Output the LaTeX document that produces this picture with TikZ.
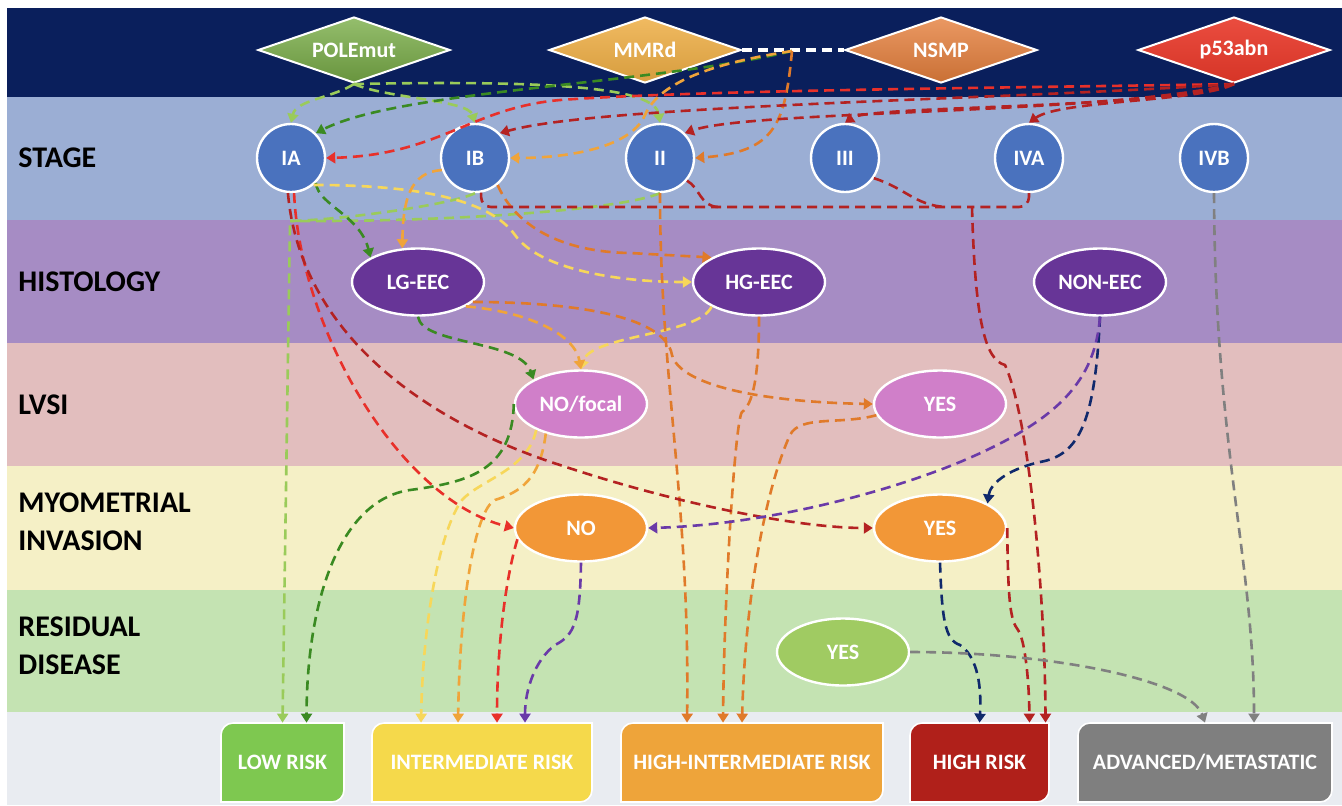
\documentclass[tikz,border=0pt]{standalone}
\usepackage{fontspec}
\setmainfont{Carlito}
\usetikzlibrary{shapes.geometric,arrows.meta}

% band colours
\definecolor{navyband}{HTML}{0A1F5C}
\definecolor{stageband}{HTML}{9BAED4}
\definecolor{histband}{HTML}{A68CC4}
\definecolor{lvsiband}{HTML}{E2BEBE}
\definecolor{myoband}{HTML}{F5F0C6}
\definecolor{resband}{HTML}{C4E3B2}
\definecolor{riskband}{HTML}{E9ECF1}
% node colours
\definecolor{polec}{HTML}{7AAE48}
\definecolor{mmrdc}{HTML}{EEAE45}
\definecolor{nsmpc}{HTML}{E57F3C}
\definecolor{p53c}{HTML}{E8392A}
\definecolor{stagec}{HTML}{4A72BE}
\definecolor{histc}{HTML}{673597}
\definecolor{lvsic}{HTML}{D07FC9}
\definecolor{myoc}{HTML}{F29737}
\definecolor{resc}{HTML}{A0CB62}
\definecolor{lowc}{HTML}{7EC850}
\definecolor{interc}{HTML}{F5D94B}
\definecolor{hintc}{HTML}{EEA43A}
\definecolor{highc}{HTML}{B0201A}
\definecolor{advc}{HTML}{7F7F7F}
% line colours
\definecolor{lgreen}{HTML}{9ACB5A}
\definecolor{dgreen}{HTML}{3A8A22}
\definecolor{lyellow}{HTML}{F7D75A}
\definecolor{lorange}{HTML}{F0A43A}
\definecolor{dorange}{HTML}{E07A2A}
\definecolor{lred}{HTML}{E8302A}
\definecolor{dred}{HTML}{B42222}
\definecolor{lpurple}{HTML}{6A3AA8}
\definecolor{dnavy}{HTML}{10296C}
\definecolor{lgrey}{HTML}{808080}

% risk box: name, centre x, width, colour, text
\newcommand{\riskbox}[5]{%
  \fill[#4, draw=white, line width=0.8pt] ({#2-#3/2},802) -- ({#2-#3/2},735)
    arc[start angle=180,end angle=90,radius=6pt] -- ({#2+#3/2},723) -- ({#2+#3/2},790)
    arc[start angle=0,end angle=-90,radius=6pt] -- cycle;
  \node[risk, minimum width=#3*0.5pt] (#1) at (#2,762.5) {#5};
}

\begin{document}
\begin{tikzpicture}[x=0.5pt, y=-0.5pt,
  txt/.style={text=white, font=\bfseries\fontsize{11}{13}\selectfont},
  tumour/.style={diamond, txt, draw=white, line width=1pt, aspect=2.9, inner sep=0pt, minimum width=96pt, minimum height=33pt},
  stage/.style={circle, txt, fill=stagec, draw=white, line width=1.2pt, inner sep=0pt, minimum size=34pt},
  oval/.style={ellipse, txt, draw=white, line width=1.2pt, inner sep=0pt, minimum width=66pt, minimum height=33.5pt},
  risk/.style={txt, inner sep=0pt, minimum height=39.5pt},
  band/.style={anchor=west, align=left, inner sep=0pt, text=black, font=\bfseries\fontsize{15}{19}\selectfont},
  link/.style={dash pattern=on 5pt off 3pt, line width=1.3pt, -{Triangle[width=5.5pt,length=4.5pt]}},
  joinline/.style={dash pattern=on 5pt off 3pt, line width=1.3pt}]

\useasboundingbox (0,0) rectangle (1342,805);
\fill[white] (0,0) rectangle (1342,805);

% bands
\fill[navyband] (7,8) rectangle (1342,97);
\fill[stageband] (7,97) rectangle (1342,220);
\fill[histband] (7,220) rectangle (1342,343);
\fill[lvsiband] (7,343) rectangle (1342,466);
\fill[myoband] (7,466) rectangle (1342,590);
\fill[resband] (7,590) rectangle (1342,712);
\fill[riskband] (7,712) rectangle (1342,805);

\node[band] (lstage) at (18,158) {STAGE};
\node[band] (lhist) at (18,282) {HISTOLOGY};
\node[band] (llvsi) at (18,405) {LVSI};
\node[band] (lmyo) at (18,522) {MYOMETRIAL\\INVASION};
\node[band] (lres) at (18,646) {RESIDUAL\\DISEASE};

% molecular classes
\node[tumour, top color=polec!80!white, bottom color=polec!85!black] (pole) at (354,50) {POLEmut};
\node[tumour, top color=mmrdc!85!white, bottom color=mmrdc!90!black] (mmrd) at (645,50) {MMRd};
\node[tumour, top color=nsmpc!80!white, bottom color=nsmpc!88!black] (nsmp) at (941,50) {NSMP};
\node[tumour, top color=p53c!90!white, bottom color=p53c!92!black] (pabn) at (1234,50) {p53abn};
\coordinate (mj) at (792,51);

% stages
\foreach \nm/\lbl/\x in {sIA/IA/291, sIB/IB/475, sII/II/660, sIII/III/845, sIVA/IVA/1029, sIVB/IVB/1214}
  \node[stage] (\nm) at (\x,158) {\lbl};

% histology, lvsi, invasion, residual
\node[oval, fill=histc] (lgeec) at (418,282) {LG-EEC};
\node[oval, fill=histc] (hgeec) at (759,282) {HG-EEC};
\node[oval, fill=histc] (noneec) at (1100,282) {NON-EEC};
\node[oval, fill=lvsic] (lvno) at (581,404) {NO/focal};
\node[oval, fill=lvsic] (lvyes) at (940,404) {YES};
\node[oval, fill=myoc] (myno) at (581,528) {NO};
\node[oval, fill=myoc] (myyes) at (940,528) {YES};
\node[oval, fill=resc] (resyes) at (843,652) {YES};

% risk groups
\riskbox{low}{282.5}{123}{lowc}{LOW RISK}
\riskbox{inter}{482}{220}{interc}{INTERMEDIATE RISK}
\riskbox{hint}{752}{262}{hintc}{HIGH-INTERMEDIATE RISK}
\riskbox{high}{979.5}{139}{highc}{HIGH RISK}
\riskbox{adv}{1205}{254}{advc}{ADVANCED/METASTATIC}

\coordinate (lowj) at (290,221);
\coordinate (hrj) at (972,207);
\coordinate (iij) at (718,207);
\coordinate (iiij) at (945,207);

% connectors
\draw[joinline, white, line width=2pt] (mmrd.east) -- (nsmp.west);

\draw[link, lgreen] (pole.south) .. controls (332,98) and (296,100) .. (sIA.north);
\draw[link, lgreen] (pole.south) .. controls (385,98) and (468,100) .. (sIB.north);
\draw[link, lgreen] (pole.south) .. controls (560,80) and (655,88) .. (sII.north);
\draw[joinline, lgreen] (sII.south) .. controls (620,210) and (450,222) .. (lowj);
\draw[link, lgreen] (sIB.south) .. controls (450,205) and (340,220) .. (lowj) -- (low.north);

\draw[link, dgreen] (mj) .. controls (650,85) and (400,90) .. (sIA.north east);
\draw[link, dgreen] (sIA.south east) .. controls (318,205) and (360,215) .. (lgeec.north west);
\draw[link, dgreen] (lgeec.south) .. controls (422,345) and (520,340) .. (lvno.north west);
\draw[link, dgreen] (lvno.west) .. controls (512,470) and (470,482) .. (410,490) .. controls (340,500) and (307,600) .. ([xshift=12pt]low.north);

\draw[link, lyellow] (sIA.-50) .. controls (420,185) and (490,200) .. (515,235) .. controls (540,270) and (620,282) .. (hgeec.west);
\draw[link, lyellow] (hgeec.south west) .. controls (700,335) and (590,335) .. (lvno.north);
\draw[link, lyellow] (lvno.-150) .. controls (528,470) and (480,480) .. (462,500) .. controls (440,530) and (423,620) .. ([xshift=-30.5pt]inter.north);

\draw[link, lorange] (mj) .. controls (720,62) and (660,80) .. (645,115) .. controls (630,150) and (560,158) .. (sIB.east);
\draw[link, lorange] (sIB.-160) .. controls (410,172) and (403,200) .. (lgeec.115);
\draw[link, lorange] (lgeec.-27) .. controls (530,312) and (575,335) .. (lvno.north);
\draw[link, lorange] (lvno.-140) .. controls (540,480) and (520,492) .. (495,500) .. controls (475,510) and (460,600) .. ([xshift=-12pt]inter.north);

\draw[link, dorange] (mj) .. controls (785,125) and (775,152) .. (sII.east);
\draw[link, dorange] (sIB.-50) .. controls (515,225) and (560,252) .. (630,253) -- (hgeec.north west);
\draw[link, dorange] (lgeec.-20) .. controls (570,302) and (665,315) .. (672,355) .. controls (680,385) and (760,402) .. (lvyes.west);
\draw[link, dorange] (sII.south) .. controls (660,380) and (690,500) .. ([xshift=-32.5pt]hint.north);
\draw[link, dorange] (hgeec.south) .. controls (759,380) and (752,405) .. (742,412) .. controls (735,420) and (724,600) .. ([xshift=-14.5pt]hint.north);
\draw[link, dorange] (lvyes.-170) .. controls (840,425) and (800,415) .. (790,435) .. controls (765,490) and (745,600) .. ([xshift=-5pt]hint.north);

\draw[link, lred] (pabn.south) .. controls (1000,88) and (700,90) .. (560,100) .. controls (470,108) and (440,155) .. (sIA.east);
\draw[link, lred] (sIA.-85) .. controls (300,330) and (400,500) .. (myno.west);
\draw[link, lred] (myno.-170) .. controls (505,580) and (497,650) .. ([xshift=7.5pt]inter.north);

\draw[link, dred] (pabn.south) .. controls (1000,100) and (600,105) .. (sIB.north east);
\draw[link, dred] (pabn.south) .. controls (1100,115) and (750,110) .. (sII.north east);
\draw[link, dred] (pabn.south) .. controls (1150,110) and (870,105) .. (sIII.north);
\draw[link, dred] (pabn.south) .. controls (1200,102) and (1060,100) .. (sIVA.north);
\draw[link, dred] (sIA.-95) .. controls (300,330) and (420,420) .. (560,465) .. controls (680,505) and (800,528) .. (myyes.west);
\draw[joinline, dred, rounded corners=5pt] (sIB.-80) |- (hrj);
\draw[joinline, dred, rounded corners=5pt] (sIVA.south) |- (hrj);
\draw[joinline, dred] (sII.-40) .. controls (700,188) and (700,206) .. (iij);
\draw[joinline, dred] (sIII.-35) .. controls (905,188) and (915,205) .. (iiij);
\draw[link, dred] (hrj) .. controls (975,320) and (985,360) .. (1005,365) .. controls (1030,420) and (1045,600) .. ([xshift=33pt]high.north);
\draw[link, dred] (myyes.east) .. controls (1008,600) and (1010,620) .. (1018,630) .. controls (1025,640) and (1029,680) .. ([xshift=25pt]high.north);

\draw[link, dnavy] (noneec.south) .. controls (1095,420) and (1080,455) .. (1040,462) .. controls (1005,470) and (990,485) .. (myyes.north east);
\draw[link, dnavy] (myyes.south) .. controls (942,620) and (945,640) .. (960,645) .. controls (975,655) and (982,680) .. (high.north);

\draw[link, lpurple] (noneec.south) .. controls (1095,380) and (1060,420) .. (960,462) .. controls (880,495) and (760,525) .. (myno.east);
\draw[link, lpurple] (myno.south) .. controls (580,620) and (575,635) .. (555,645) .. controls (535,660) and (525,690) .. ([xshift=21.5pt]inter.north);

\draw[link, lgrey] (sIVB.south) .. controls (1215,450) and (1254,560) .. ([xshift=24.5pt]adv.north);
\draw[link, lgrey] (resyes.east) .. controls (1050,652) and (1190,680) .. (adv.north);

\end{tikzpicture}
\end{document}
